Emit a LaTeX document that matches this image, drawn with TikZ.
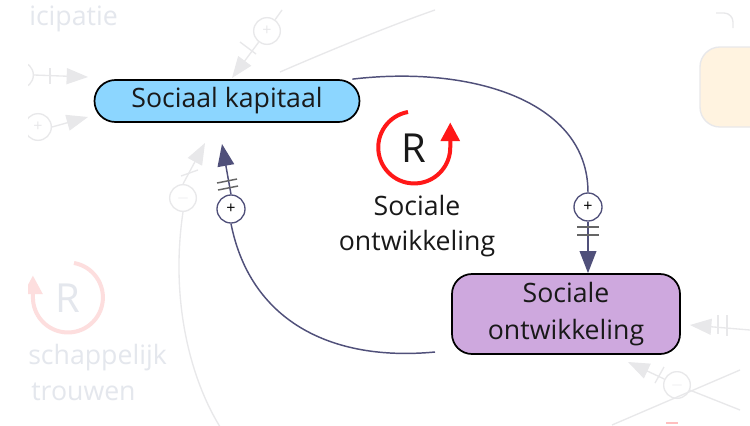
\documentclass[tikz,border=0pt]{standalone}
\usepackage{fontspec}
\setmainfont{Open Sans}
\usepackage{xcolor}
\definecolor{kapblue}{RGB}{140,214,255}
\definecolor{ontpurple}{RGB}{206,168,222}
\definecolor{linkcol}{RGB}{80,80,122}
\definecolor{loopred}{RGB}{255,24,24}
\definecolor{ghost}{RGB}{232,232,234}
\definecolor{ghosttext}{RGB}{228,231,237}
\definecolor{ghostpink}{RGB}{253,222,222}
\definecolor{ghostorange}{RGB}{255,243,224}
\usetikzlibrary{arrows.meta,calc}
\tikzset{
  var/.style={draw=black,line width=1.3pt,align=center,inner sep=0pt,text=black!90,font=\fontsize{20}{28}\selectfont},
  polarity/.style={circle,draw=linkcol,line width=1pt,fill=white,minimum size=21pt,inner sep=0pt,font=\fontsize{12}{12}\selectfont},
  link/.style={draw=linkcol,line width=1.1pt},
  linkarrow/.style={link,-{Triangle[length=16.5pt,width=12.5pt]}},
  delay/.style={draw=black!60,line width=1.1pt},
  looparrow/.style={draw=loopred,line width=3pt,-{Triangle[length=14pt,width=14pt]}},
  looplabel/.style={align=center,text=black!90,font=\fontsize{20}{26}\selectfont},
  ghostline/.style={draw=ghost,line width=1pt},
  ghostarrow/.style={ghostline,-{Triangle[length=16pt,width=12pt]}},
  ghostpol/.style={circle,draw=ghost,line width=1pt,minimum size=20pt,inner sep=0pt,text=ghost,font=\fontsize{12}{12}\selectfont},
  ghosttxt/.style={text=ghosttext,font=\fontsize{20}{26}\selectfont,inner sep=0pt},
}

\begin{document}
\begin{tikzpicture}[x=0.75pt,y=-0.75pt]
\useasboundingbox[fill=white] (0,0) rectangle (750,425);
% faded rest of the model
\node[ghosttxt,anchor=base west] (partic) at (29,25) {icipatie};
\node[ghosttxt,anchor=base west] (maat1) at (28,364) {schappelijk};
\node[ghosttxt,anchor=base west] (maat2) at (31,400) {trouwen};
\begin{scope}
\clip (28,0) rectangle (750,425);
\node[ghostpol] (g1) at (20,75) {+};
\node[ghostpol] (g2) at (38,127) {+};
\node[ghostpol] (g3) at (267,31) {+};
\node[ghostpol] (g4) at (183,198) {$-$};
\node[ghostpol] (g5) at (677,385) {$-$};
\draw[ghostarrow] (g1.east) -- (88,77);
\draw[ghostline] (50,68) -- (50,84);
\draw[ghostarrow] (g2.east) -- (88,117);
\draw[ghostline] (282,10) -- (g3);
\draw[ghostarrow] (g3) -- (232,78);
\draw[ghostline] (240,42) -- (256,54);
\draw[ghostarrow] (g4.north) -- (205,143);
\draw[ghostline] (181,176) -- (198,170);
\draw[ghostline] (g4.south) .. controls (170,300) and (190,380) .. (222,430);
\draw[ghostline] (280,72) .. controls (340,46) and (400,22) .. (435,10);
\draw[ghostline] (716,13) -- (724,13) arc[start angle=-90,end angle=0,radius=9] -- (733,28);
\draw[ghostline,fill=ghostorange,rounded corners=15pt] (700,47) rectangle (790,127);
\draw[ghostarrow] (750,330) -- (690,325);
\draw[ghostline] (718,315) -- (718,334);
\draw[ghostline] (727,315) -- (727,336);
\draw[ghostline] (740,410) -- (g5);
\draw[ghostarrow] (g5) -- (628,362);
\draw[ghostline] (655,383) -- (664,367);
\draw[ghostline] (612,425) -- (740,370);
\draw[draw=ghostpink,line width=3pt,-{Triangle[length=14pt,width=14pt]}]
  (74,263) arc[start angle=-80,end angle=180,radius=35] -- ++(0,-22);
\node[ghosttxt,font=\fontsize{30}{30}\selectfont] (gr) at (68,298) {R};
\draw[draw=red!25,line width=2pt] (666,423) -- (678,423);
\end{scope}
% the loop itself
\node[var,fill=kapblue,minimum width=198.75pt,minimum height=31.5pt,rounded corners=15.75pt] (kap) at (227,101) {Sociaal kapitaal};
\node[var,fill=ontpurple,minimum width=171pt,minimum height=60pt,rounded corners=15pt] (ont) at (566,314) {Sociale\\ontwikkeling};
\node[polarity] (p1) at (588,207) {+};
\node[polarity] (p2) at (231,209) {+};
\coordinate (ontout) at (435,352);
\coordinate (kapin) at (222,144);
\draw[link] ($(kap.north east)+(-8,0)$) .. controls +(118,-14) and +(0,-92) .. (p1.north);
\draw[linkarrow] (p1.south) -- (p1.south |- ont.north);
\draw[delay] (577,227) -- (599,227);
\draw[delay] (577,235) -- (599,235);
\draw[link] (ontout) .. controls (330,362) and (250,320) .. (p2.south);
\draw[linkarrow] (p2.north) -- (kapin);
\draw[delay] (217,183) -- (237,179);
\draw[delay] (218,190) -- (238,186);
% R loop marker
\draw[looparrow] (408,112) arc[start angle=-100,end angle=-360,radius=36] -- ++(0,-25);
\node[font=\fontsize{30}{30}\selectfont,text=black!90] (rmark) at (414,148) {R};
\node[looplabel] (rlabel) at (417,226) {Sociale\\ontwikkeling};
\end{tikzpicture}
\end{document}
